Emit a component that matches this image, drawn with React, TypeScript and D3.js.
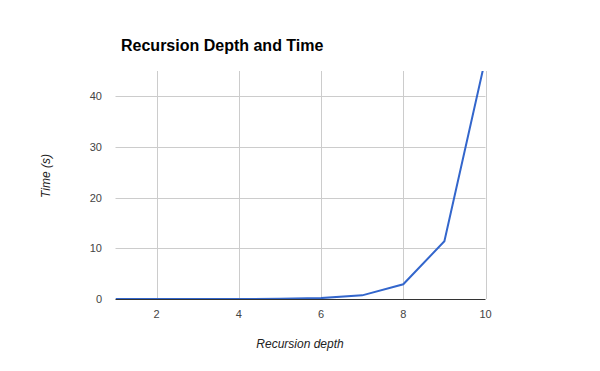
import React from "react";
import { scaleLinear, line } from "d3";

const depths = [1, 2, 3, 4, 5, 6, 7, 8, 9, 10];
const times = [0.0, 0.0003, 0.001, 0.003, 0.045, 0.18, 0.72, 2.9, 11.4, 47.5];
const xTicks = [2, 4, 6, 8, 10];
const yTicks = [0, 10, 20, 30, 40];

const WIDTH = 600;
const HEIGHT = 371;
const PLOT = { left: 115.5, right: 485.5, top: 71, bottom: 299 };
const FONT = "Arial, 'Liberation Sans', sans-serif";

export default function App() {
  const x = scaleLinear().domain([1, 10]).range([PLOT.left, PLOT.right]);
  const y = scaleLinear().domain([0, 45]).range([PLOT.bottom, PLOT.top]);

  const path =
    line<number>()
      .x((_, i) => x(depths[i]))
      .y((d) => y(d))(times) || "";

  return (
    <div style={{ position: "absolute", left: 0, top: 0 }}>
      <svg width={WIDTH} height={HEIGHT} style={{ display: "block", background: "#fff" }}>
        <defs>
          <clipPath id="plot-clip">
            <rect x={PLOT.left} y={PLOT.top} width={PLOT.right - PLOT.left} height={PLOT.bottom - PLOT.top} />
          </clipPath>
        </defs>

        {/* Title */}
        <text x={121} y={50.5} fontFamily={FONT} fontSize={16} fontWeight="bold" fill="#000">
          Recursion Depth and Time
        </text>

        {/* Y gridlines + labels */}
        {yTicks.map((t) => (
          <g key={`y${t}`}>
            {t !== 0 && (
              <line x1={PLOT.left} x2={PLOT.right} y1={Math.round(y(t)) + 0.5} y2={Math.round(y(t)) + 0.5} stroke="#cccccc" strokeWidth={1} />
            )}
            <text x={102} y={y(t) + 4} textAnchor="end" fontFamily={FONT} fontSize={11} fill="#444">
              {t}
            </text>
          </g>
        ))}

        {/* X gridlines + labels */}
        {xTicks.map((t) => (
          <g key={`x${t}`}>
            <line x1={Math.round(x(t)) + 0.5} x2={Math.round(x(t)) + 0.5} y1={PLOT.top} y2={PLOT.bottom} stroke="#cccccc" strokeWidth={1} />
            <text x={x(t)} y={318} textAnchor="middle" fontFamily={FONT} fontSize={11} fill="#444">
              {t}
            </text>
          </g>
        ))}

        {/* Baseline */}
        <line x1={PLOT.left} x2={PLOT.right} y1={Math.round(y(0)) + 0.5} y2={Math.round(y(0)) + 0.5} stroke="#333333" strokeWidth={1} />

        {/* Series */}
        <path d={path} fill="none" stroke="#3366cc" strokeWidth={2} clipPath="url(#plot-clip)" />

        {/* Axis titles */}
        <text x={300} y={348} textAnchor="middle" fontFamily={FONT} fontSize={12} fontStyle="italic" fill="#222">
          Recursion depth
        </text>
        <text
          transform={`translate(50, 176) rotate(-90)`}
          textAnchor="middle"
          fontFamily={FONT}
          fontSize={12}
          fontStyle="italic"
          fill="#222"
        >
          Time (s)
        </text>
      </svg>
    </div>
  );
}
